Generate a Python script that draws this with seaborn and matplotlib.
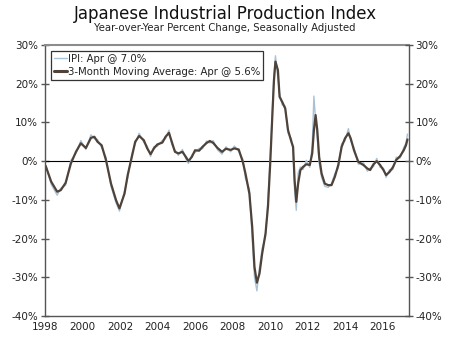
import matplotlib
matplotlib.use("Agg")
import matplotlib.pyplot as plt
import seaborn as sns
import pandas as pd

dates = [1998.04, 1998.33, 1998.65, 1998.84, 1999.10, 1999.38, 1999.65, 1999.91,
         2000.18, 2000.45, 2000.63, 2000.80, 2001.02, 2001.25, 2001.52, 2001.79,
         2001.97, 2002.24, 2002.41, 2002.63, 2002.81, 2003.02, 2003.27, 2003.45,
         2003.63, 2003.81, 2003.99, 2004.26, 2004.43, 2004.61, 2004.76, 2004.93,
         2005.11, 2005.33, 2005.51, 2005.65, 2005.83, 2006.00, 2006.22, 2006.40,
         2006.62, 2006.79, 2006.97, 2007.20, 2007.44, 2007.65, 2007.90, 2008.10,
         2008.33, 2008.55, 2008.69, 2008.90, 2009.05, 2009.17, 2009.30, 2009.44,
         2009.58, 2009.76, 2009.89, 2010.01, 2010.12, 2010.21, 2010.29, 2010.42,
         2010.51, 2010.65, 2010.81, 2010.96, 2011.14, 2011.23, 2011.31, 2011.40,
         2011.50, 2011.62, 2011.76, 2011.94, 2012.12, 2012.25, 2012.34, 2012.43,
         2012.52, 2012.62, 2012.75, 2012.92, 2013.10, 2013.28, 2013.46, 2013.64,
         2013.82, 2014.00, 2014.18, 2014.30, 2014.48, 2014.71, 2014.98, 2015.19,
         2015.34, 2015.52, 2015.69, 2015.87, 2016.05, 2016.19, 2016.37, 2016.55,
         2016.73, 2016.94, 2017.13, 2017.25, 2017.33]

ma_3m = [-1.3, -5.3, -7.9, -7.5, -5.6, -0.6, 2.4, 4.6,
         3.4, 6.0, 6.3, 5.0, 4.1, 0.3, -5.8, -10.1,
         -12.2, -8.4, -3.6, 1.1, 5.0, 6.5, 5.4, 3.3,
         1.8, 3.3, 4.3, 4.8, 6.3, 7.3, 5.0, 2.4,
         2.0, 2.4, 1.1, 0.0, 1.1, 2.8, 2.7, 3.7,
         4.7, 5.2, 4.7, 3.4, 2.4, 3.2, 2.9, 3.3,
         3.0, -0.2, -3.2, -8.4, -17.0, -27.3, -31.4, -29.0,
         -23.9, -18.7, -11.8, -0.6, 11.4, 20.9, 25.7, 23.5,
         16.6, 15.3, 13.6, 8.0, 5.0, 3.7, -4.9, -10.5,
         -5.8, -2.3, -1.5, -0.8, -1.0, 2.0, 8.0, 11.9,
         8.0, 1.1, -3.2, -5.8, -6.2, -6.2, -4.0, -1.0,
         3.7, 5.9, 7.2, 5.9, 2.8, -0.2, -1.0, -1.9,
         -2.3, -0.8, 0.0, -1.0, -2.3, -3.6, -2.8, -1.6,
         0.3, 1.3, 2.8, 4.1, 5.6]

ipi = [-1.0, -6.0, -8.8, -7.0, -6.2, 0.2, 2.0, 5.3,
       3.0, 6.8, 5.8, 5.6, 3.5, 1.0, -6.5, -10.8,
       -12.9, -7.8, -4.4, 1.8, 4.4, 7.2, 4.8, 3.9,
       1.2, 3.8, 3.8, 5.4, 5.8, 8.0, 4.3, 2.9,
       1.5, 3.0, 0.6, -0.6, 1.6, 2.2, 3.3, 3.2,
       5.2, 4.7, 5.3, 2.9, 1.8, 3.7, 2.4, 3.9,
       2.5, 0.5, -4.5, -7.2, -20.0, -30.0, -33.5, -27.5,
       -22.5, -19.5, -10.0, 1.0, 13.0, 22.5, 27.2, 21.5,
       17.5, 14.5, 14.2, 7.2, 5.8, 2.6, -7.5, -12.7,
       -3.0, -1.5, -2.2, 0.2, -1.6, 4.0, 16.8, 10.5,
       6.0, -0.5, -4.2, -6.5, -6.8, -5.8, -3.2, -1.8,
       4.5, 5.2, 8.4, 5.2, 3.4, -0.8, -0.4, -2.6,
       -1.8, -1.4, 0.7, -1.6, -1.8, -4.2, -2.2, -2.2,
       1.0, 0.8, 3.5, 4.7, 7.0]

y_ticks = [30, 20, 10, 0, -10, -20, -30, -40]
year_ticks = list(range(1998, 2018))
year_labels = [str(y) if y % 2 == 0 else "" for y in year_ticks]

title = "Japanese Industrial Production Index"
subtitle = "Year-over-Year Percent Change, Seasonally Adjusted"
label_ipi = "IPI: Apr @ 7.0%"
label_ma = "3-Month Moving Average: Apr @ 5.6%"

sns.set_style("white")
plt.rcParams["font.family"] = ["DejaVu Sans"]

df = pd.DataFrame({"date": dates, "ipi": ipi, "ma": ma_3m})

fig = plt.figure(figsize=(4.5, 3.38), dpi=100)
ax = fig.add_axes([0.1, 0.065, 0.808, 0.802])

ipi_color = "#a9c2d6"
ma_color = "#4e4239"
sns.lineplot(data=df, x="date", y="ipi", ax=ax, color=ipi_color, linewidth=1.0, label=label_ipi)
sns.lineplot(data=df, x="date", y="ma", ax=ax, color=ma_color, linewidth=1.6, label=label_ma)

ax.axhline(0, color="black", linewidth=0.8, zorder=1)

ax.set_xlim(1998, 2017.39)
ax.set_ylim(-40, 30)
ax.set_xlabel("")
ax.set_ylabel("")

ax.set_yticks(y_ticks)
ax.set_yticklabels([f"{v}%" for v in y_ticks])
ax.set_xticks(year_ticks)
ax.set_xticklabels(year_labels)

text_color = "#222222"
spine_color = "#555555"
for s in ["left", "bottom", "right"]:
    ax.spines[s].set_color(spine_color)
    ax.spines[s].set_linewidth(1.0)
ax.spines["top"].set_color("#8c8c8c")
ax.spines["top"].set_linewidth(1.5)

ax.tick_params(axis="both", direction="inout", length=6, width=1.0, color=spine_color,
               labelsize=7.5, labelcolor=text_color, pad=2)
ax.tick_params(axis="x", pad=1)

ax2 = ax.twinx()
ax2.set_ylim(-40, 30)
ax2.set_yticks(y_ticks)
ax2.set_yticklabels([f"{v}%" for v in y_ticks])
ax2.tick_params(axis="y", direction="inout", length=6, width=1.0, color=spine_color,
                labelsize=7.5, labelcolor=text_color, pad=2)
for s in ax2.spines.values():
    s.set_visible(False)

leg = ax.legend(loc="upper left", bbox_to_anchor=(0.016, 0.978), borderaxespad=0,
                frameon=True, fancybox=False, fontsize=7.3, handlelength=1.3,
                handletextpad=0.1, borderpad=0.3, labelspacing=0.3)
leg.get_frame().set_edgecolor("black")
leg.get_frame().set_linewidth(0.9)
leg.get_lines()[1].set_linewidth(2.2)
for t in leg.get_texts():
    t.set_color(text_color)

fig.text(0.5, 0.958, title, ha="center", va="center", fontsize=12, color="#111111")
fig.text(0.5, 0.917, subtitle, ha="center", va="center", fontsize=7.3, color="#222222")

fig.savefig("out.png", dpi=100)
